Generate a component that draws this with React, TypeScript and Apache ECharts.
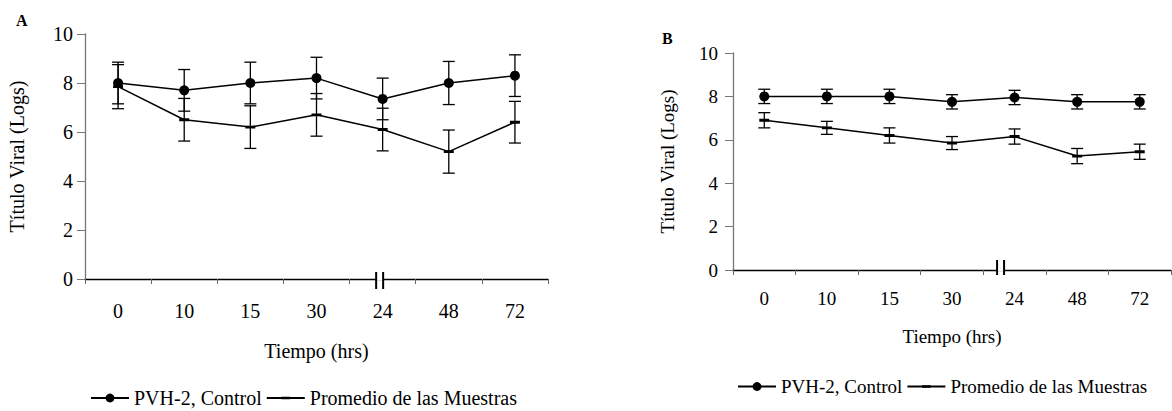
import React, { useEffect, useRef } from "react";
import * as echarts from "echarts";

const categories = ["0", "10", "15", "30", "24", "48", "72"];
const yTicks = [0, 2, 4, 6, 8, 10];

const controlA = [8.0, 7.7, 8.0, 8.2, 7.35, 8.0, 8.3];
const controlAErr = [0.85, 0.85, 0.85, 0.85, 0.85, 0.88, 0.85];
const samplesA = [7.85, 6.5, 6.2, 6.7, 6.1, 5.2, 6.4];
const samplesAErr = [0.9, 0.87, 0.87, 0.87, 0.87, 0.88, 0.85];

const controlB = [8.0, 8.0, 8.0, 7.75, 7.95, 7.75, 7.75];
const controlBErr = [0.33, 0.33, 0.33, 0.33, 0.33, 0.33, 0.33];
const samplesB = [6.9, 6.55, 6.2, 5.85, 6.15, 5.25, 5.45];
const samplesBErr = [0.35, 0.3, 0.35, 0.3, 0.35, 0.35, 0.35];

const NAME_CONTROL = "PVH-2, Control";
const NAME_SAMPLES = "Promedio de las Muestras";
const FONT = "'Liberation Serif', 'Times New Roman', serif";
// short horizontal dash inside a square box (invisible slivers keep the box square)
const DASH_SYMBOL =
  "path://M0,0 L9,0 L9,0.001 Z M0,3.2 L9,3.2 L9,5.8 L0,5.8 Z M0,8.999 L9,8.999 L9,9 Z";

const errRender = (params: any, api: any) => {
  const x = api.value(0);
  const y = api.value(1);
  const e = api.value(2);
  const top = api.coord([x, y + e]);
  const bot = api.coord([x, y - e]);
  const hw = 6;
  const st = { stroke: "#000", lineWidth: 1.3 };
  return {
    type: "group",
    children: [
      { type: "line", shape: { x1: top[0], y1: top[1], x2: bot[0], y2: bot[1] }, style: st },
      { type: "line", shape: { x1: top[0] - hw, y1: top[1], x2: top[0] + hw, y2: top[1] }, style: st },
      { type: "line", shape: { x1: bot[0] - hw, y1: bot[1], x2: bot[0] + hw, y2: bot[1] }, style: st },
    ],
  };
};

const mkErr = (vals: number[], errs: number[]) => vals.map((v, i) => [i, v, errs[i]]);

export default function App() {
  const ref = useRef<HTMLDivElement>(null);
  useEffect(() => {
    if (!ref.current) return;
    const chart = echarts.init(ref.current, undefined, { renderer: "svg" });

    const mkX = (gi: number, fs: number, labelMargin: number, nameGap: number) => ({
      type: "category",
      gridIndex: gi,
      data: categories,
      boundaryGap: true,
      axisLine: { show: true, lineStyle: { color: "#000", width: 1.3 } },
      axisTick: { show: true, length: 5, lineStyle: { color: "#666" } },
      axisLabel: { color: "#000", fontSize: fs, fontFamily: FONT, margin: labelMargin },
      name: "Tiempo (hrs)",
      nameLocation: "middle",
      nameGap,
      nameTextStyle: { color: "#000", fontSize: fs, fontFamily: FONT },
      splitLine: { show: false },
    });
    const mkY = (gi: number, fs: number, labelMargin: number, nameGap: number) => ({
      type: "value",
      gridIndex: gi,
      min: yTicks[0],
      max: yTicks[yTicks.length - 1],
      interval: 2,
      axisLine: { show: true, lineStyle: { color: "#777", width: 1.3 } },
      axisTick: { show: true, length: 8, lineStyle: { color: "#777" } },
      axisLabel: { color: "#000", fontSize: fs, fontFamily: FONT, margin: labelMargin },
      splitLine: { show: false },
      name: "Título Viral (Logs)",
      nameLocation: "middle",
      nameGap,
      nameTextStyle: { color: "#000", fontSize: fs, fontFamily: FONT },
    });
    const lineSeries = (name: string, data: number[], gi: number, isControl: boolean) => ({
      type: "line",
      name,
      xAxisIndex: gi,
      yAxisIndex: gi,
      data,
      symbol: isControl ? "circle" : DASH_SYMBOL,
      symbolSize: isControl ? 10 : 10,
      showSymbol: true,
      lineStyle: { color: "#000", width: 1.5 },
      itemStyle: { color: "#000" },
      z: 3,
    });
    const errSeries = (name: string, vals: number[], errs: number[], gi: number) => ({
      type: "custom",
      name,
      xAxisIndex: gi,
      yAxisIndex: gi,
      data: mkErr(vals, errs),
      encode: { x: 0, y: 1 },
      renderItem: errRender,
      itemStyle: { color: "#000" },
      z: 2,
      silent: true,
    });

    chart.setOption({
      animation: false,
      backgroundColor: "#fff",
      title: [
        { text: "A", left: 11, top: 7, textStyle: { fontFamily: FONT, fontSize: 16, fontWeight: "bold", color: "#000" } },
        { text: "B", left: 657, top: 25, textStyle: { fontFamily: FONT, fontSize: 16, fontWeight: "bold", color: "#000" } },
      ],
      grid: [
        { left: 85, top: 34, width: 463, height: 245 },
        { left: 733, top: 53, width: 438, height: 217 },
      ],
      xAxis: [mkX(0, 20, 22, 62), mkX(1, 19, 19, 57)],
      yAxis: [mkY(0, 20, 12, 58), mkY(1, 19, 15, 56)],
      legend: [
        {
          left: 85,
          top: 383,
          itemWidth: 38,
          itemHeight: 11,
          itemGap: 4,
          data: [NAME_CONTROL, NAME_SAMPLES],
          textStyle: { fontFamily: FONT, fontSize: 20, color: "#000" },
        },
        {
          left: 732,
          top: 372,
          itemWidth: 38,
          itemHeight: 11,
          itemGap: 4,
          data: [NAME_CONTROL, NAME_SAMPLES],
          textStyle: { fontFamily: FONT, fontSize: 19, color: "#000" },
        },
      ],
      series: [
        lineSeries(NAME_CONTROL, controlA, 0, true),
        lineSeries(NAME_SAMPLES, samplesA, 0, false),
        lineSeries(NAME_CONTROL, controlB, 1, true),
        lineSeries(NAME_SAMPLES, samplesB, 1, false),
        errSeries("errA-control", controlA, controlAErr, 0),
        errSeries("errA-samples", samplesA, samplesAErr, 0),
        errSeries("errB-control", controlB, controlBErr, 1),
        errSeries("errB-samples", samplesB, samplesBErr, 1),
      ],
    });

    // axis break marks on the category "24"
    const breakMark = (gi: number, offset: number, up: number, down: number) => {
      const p = chart.convertToPixel({ xAxisIndex: gi, yAxisIndex: gi } as any, ["24", 0]) as number[];
      const cx = p[0] + offset;
      const cy = p[1];
      const gap = 3.5;
      return [
        { type: "rect", shape: { x: cx - gap, y: cy - 1.5, width: gap * 2, height: 3 }, style: { fill: "#fff" }, z: 10 },
        { type: "line", shape: { x1: cx - gap, y1: cy - up, x2: cx - gap, y2: cy + down }, style: { stroke: "#000", lineWidth: 2 }, z: 11 },
        { type: "line", shape: { x1: cx + gap, y1: cy - up, x2: cx + gap, y2: cy + down }, style: { stroke: "#000", lineWidth: 2 }, z: 11 },
      ];
    };
    chart.setOption({
      graphic: [...breakMark(0, -3, 7, 10), ...breakMark(1, -14, 10, 5)],
    });

    return () => chart.dispose();
  }, []);
  return (
    <div
      ref={ref}
      style={{ position: "fixed", left: 0, top: 0, width: 1172, height: 411, background: "#fff" }}
    />
  );
}
